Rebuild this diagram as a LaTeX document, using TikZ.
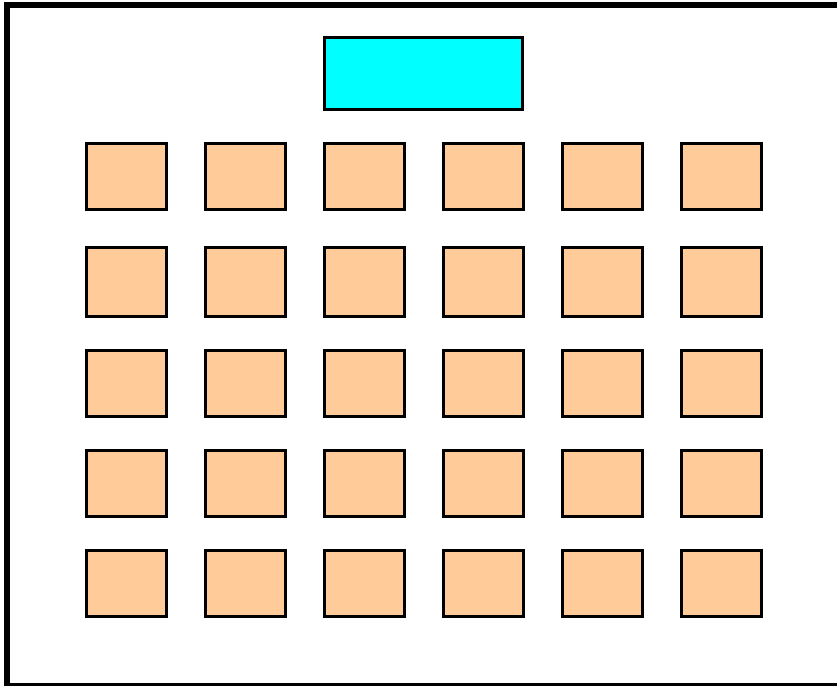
\documentclass[tikz,border=0pt]{standalone}
\definecolor{peach}{HTML}{FFCC99}
\definecolor{aqua}{HTML}{00FFFF}
\begin{document}
\begin{tikzpicture}[x=1pt,y=-1pt,
  seat/.style={draw=black, fill=peach, line width=2.7pt, minimum width=80.3pt, minimum height=66.3pt, inner sep=0pt, outer sep=0pt},
  desk/.style={draw=black, fill=aqua, line width=2.7pt, minimum width=198.3pt, minimum height=72.3pt, inner sep=0pt}]
\useasboundingbox (0,0) rectangle (837,685);
\clip (0,0) rectangle (837,685);
\draw[line width=6pt] (7,5) rectangle (850,685.5);
\node[desk] (teacher) at (423.5,73.5) {};
\foreach \r/\y/\h in {1/176.5/66.3, 2/282/69.3, 3/383.5/66.3, 4/483.5/66.3, 5/583.5/66.3} {
  \foreach \c/\x in {1/126.5, 2/245.5, 3/364.5, 4/483.5, 5/602.5, 6/721.5} {
    \node[seat, minimum height=\h pt] (s\r-\c) at (\x,\y) {};
  }
}
\end{tikzpicture}
\end{document}
